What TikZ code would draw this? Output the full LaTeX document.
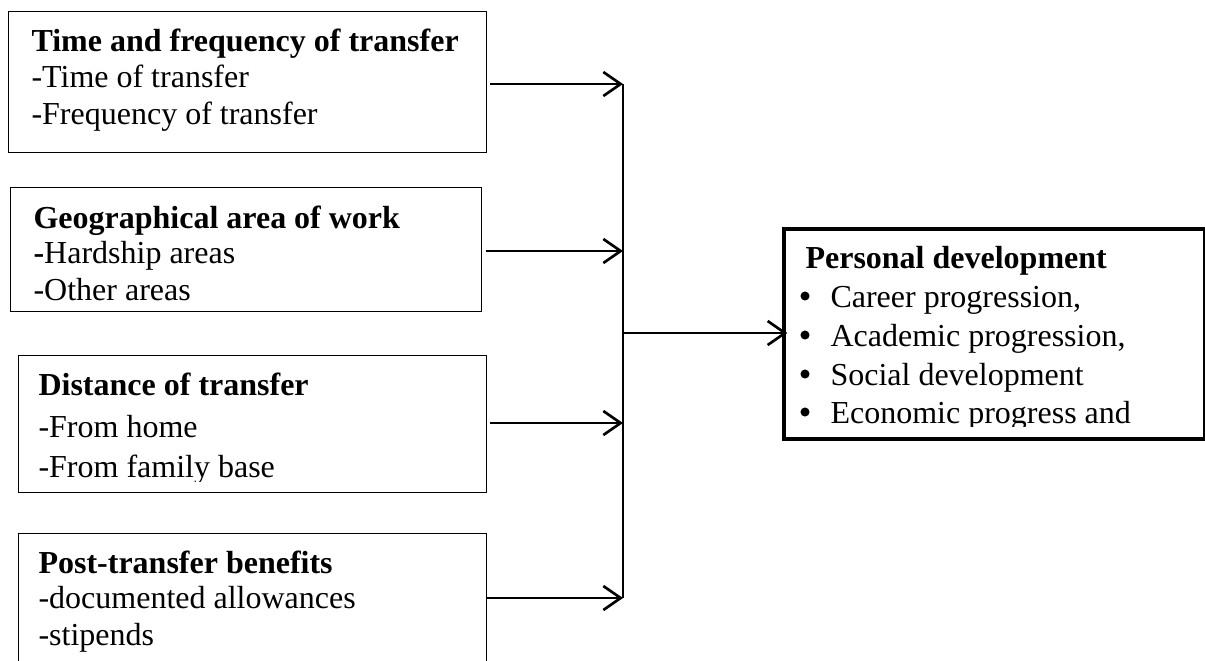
\documentclass[tikz,border=0pt]{standalone}
\usepackage{fontspec}
\setmainfont{Liberation Serif}
\usetikzlibrary{arrows.meta,positioning}

\tikzset{
  factor/.style={draw, line width=0.55pt, rectangle, inner sep=0pt, anchor=north west},
  outcome/.style={draw, line width=1.5pt, rectangle, inner sep=0pt, anchor=north west},
  txt/.style={anchor=base west, inner sep=0pt, font=\fontsize{12}{14}\selectfont},
  dot/.style={circle, fill, inner sep=0pt, minimum size=3.4pt},
  feed/.style={-{Straight Barb[length=6.5pt,width=9pt,line width=1pt]}, line width=1.1pt}
}

\begin{document}
\begin{tikzpicture}[x=0.375pt, y=-0.375pt]
  \useasboundingbox (0,0) rectangle (1205,660);
  \clip (0,0) rectangle (1205,660);

  % Kisanduku vya vipengele
  \node[factor, minimum width=179.25pt, minimum height=52.875pt] (time) at (8,11) {};
  \node[factor, minimum width=176.625pt, minimum height=46.5pt] (geo) at (10,187) {};
  \node[factor, minimum width=175.5pt, minimum height=51.375pt] (dist) at (18,355) {};
  \node[factor, minimum width=175.5pt, minimum height=55.125pt] (post) at (18,533) {};
  \node[outcome, minimum width=157.875pt, minimum height=78.75pt] (dev) at (782,227) {};

  % Maandishi
  \node[txt] (t1a) at (31,51) {\textbf{Time and frequency of transfer}};
  \node[txt] (t1b) at (31,87) {-Time of transfer};
  \node[txt] (t1c) at (31,124) {-Frequency of transfer};

  \node[txt] (t2a) at (33,228) {\textbf{Geographical area of work}};
  \node[txt] (t2b) at (33,263) {\textbf{-}Hardship areas};
  \node[txt] (t2c) at (33,300) {-Other areas};

  \begin{scope}
    \clip (18,355) rectangle (486,481);
    \node[txt] (t3a) at (38,395) {\textbf{Distance of transfer}};
    \node[txt] (t3b) at (38,437) {-From home};
    \node[txt] (t3c) at (38,477) {-From family base};
  \end{scope}

  \node[txt] (t4a) at (38,573) {\textbf{Post-transfer benefits}};
  \node[txt] (t4b) at (38,608) {-documented allowances};
  \node[txt] (t4c) at (38,645) {-stipends};

  \begin{scope}
    \clip (782,227) rectangle (1203,426);
    \node[txt] (t5a) at (805,268) {\textbf{Personal development}};
    \foreach \y/\item [count=\i] in {307/{Career progression,}, 346/{Academic progression,}, 385/{Social development}, 423/{Economic progress and}} {
      \node[dot] (b\i) at (805,\y-11) {};
      \node[txt] (p\i) at (830,\y) {\item};
    }
  \end{scope}

  % Mishale
  \coordinate (j1) at (623,84);
  \coordinate (j2) at (623,251);
  \coordinate (j3) at (623,423);
  \coordinate (j4) at (623,598);
  \coordinate (jm) at (623,333);

  \draw[line width=0.9pt] (j1) -- (j4);
  \draw[feed] ([xshift=1pt]time.east |- j1) -- (j1);
  \draw[feed] ([xshift=1.5pt]geo.east |- j2) -- (j2);
  \draw[feed] ([xshift=1pt]dist.east |- j3) -- (j3);
  \draw[feed] (post.east |- j4) -- (j4);
  \draw[feed] (jm) -- ([xshift=2pt]dev.west |- jm);
\end{tikzpicture}
\end{document}
